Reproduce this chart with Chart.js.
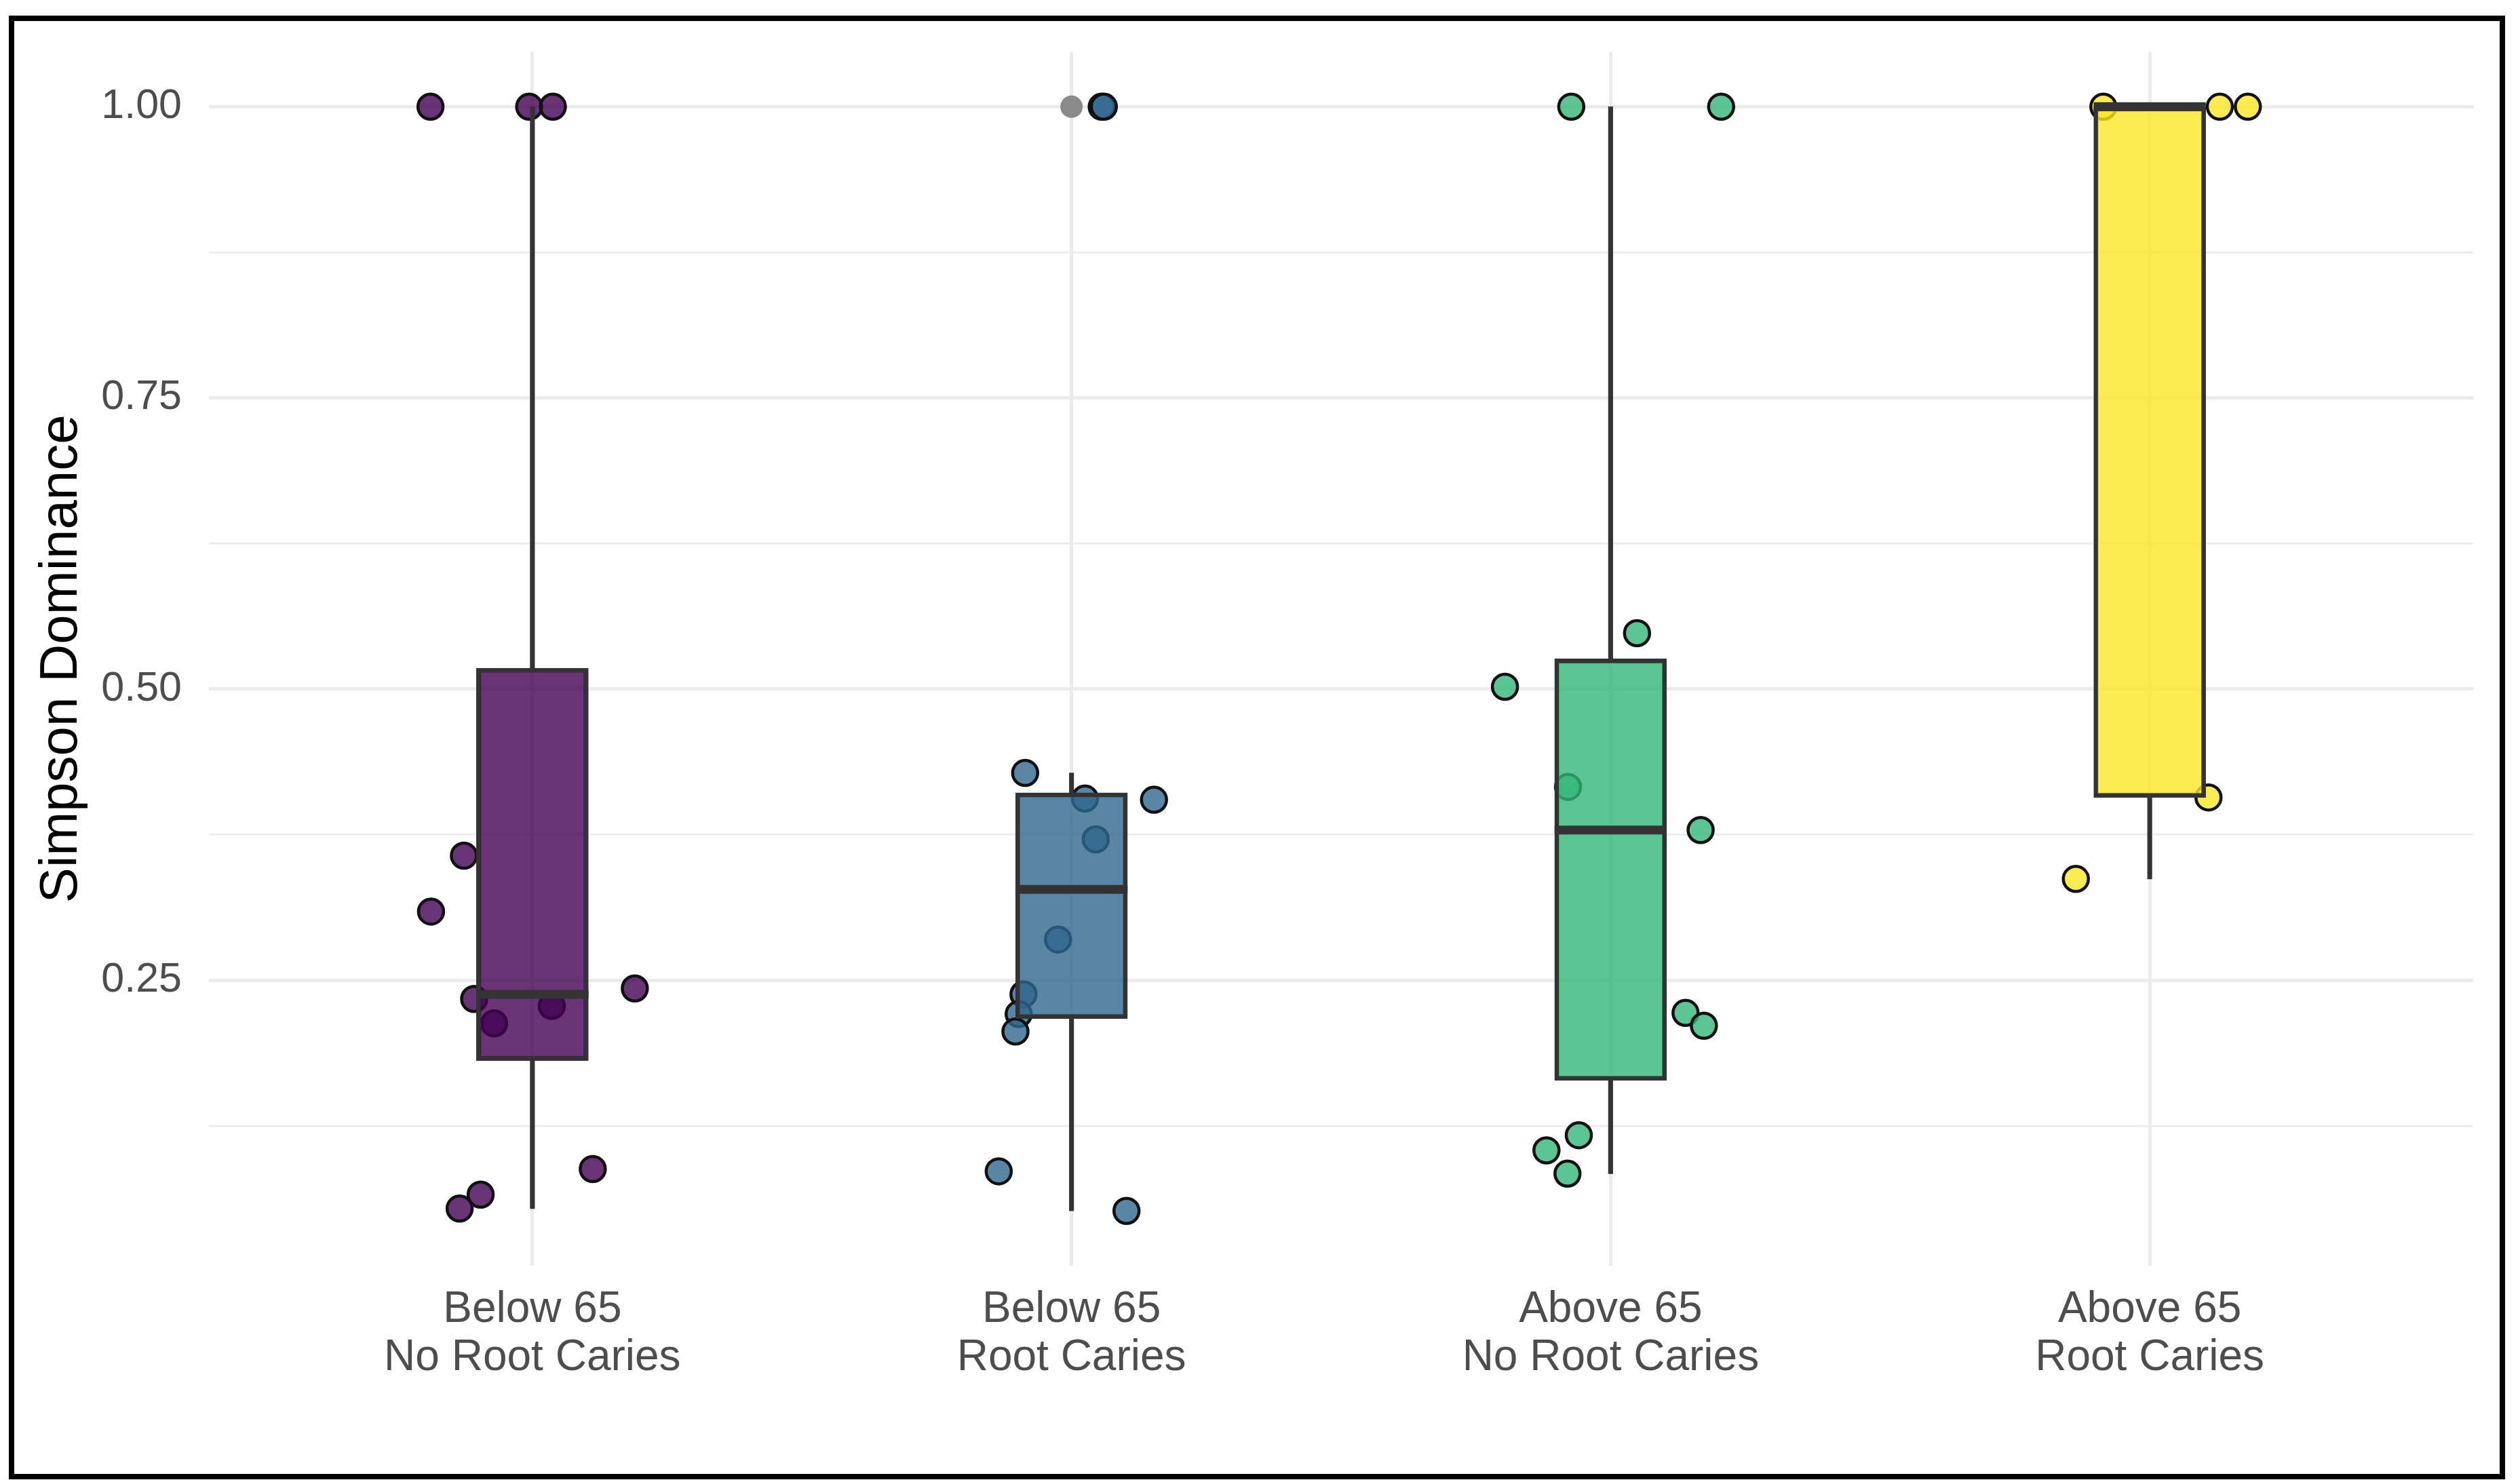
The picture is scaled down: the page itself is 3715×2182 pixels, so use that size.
<!DOCTYPE html>
<html>
<head>
<meta charset="utf-8">
<title>Simpson Dominance</title>
<script src="https://cdn.jsdelivr.net/npm/chart.js@4/dist/chart.umd.min.js"></script>
<style>
  html, body { margin: 0; padding: 0; background: #fff; }
  #wrap { position: relative; width: 3715px; height: 2182px; }
  #frame {
    position: absolute; left: 13px; top: 23px; width: 3680px; height: 2158px;
    box-sizing: border-box; border: 8px solid #000; pointer-events: none;
  }
</style>
</head>
<body>
<div id="wrap">
  <canvas id="chart" width="3715" height="2182"></canvas>
  <div id="frame"></div>
</div>
<script>
/* ── Data ── */
const CATEGORIES = [
  ['Below 65', 'No Root Caries'],
  ['Below 65', 'Root Caries'],
  ['Above 65', 'No Root Caries'],
  ['Above 65', 'Root Caries'],
];

// box statistics
const BOX_Q1     = [0.181, 0.217, 0.164, 0.407];
const BOX_MEDIAN = [0.238, 0.328, 0.379, 1.000];
const BOX_Q3     = [0.518, 0.411, 0.526, 1.000];
const WHISKER_LO = [0.054, 0.052, 0.084, 0.337];
const WHISKER_HI = [1.000, 0.428, 1.000, 1.000];

// boxplot outliers (group position, value)
const OUTLIER_GROUP = [2];
const OUTLIER_VALUE = [1.000];

// jittered observations per group
const G1_VALUES = [1.00, 1.00, 1.00, 0.357, 0.309, 0.234, 0.213, 0.228, 0.243, 0.088, 0.066, 0.054];
const G1_JITTER = [-0.189, -0.006, 0.038, -0.127, -0.188, -0.108, -0.071, 0.036, 0.190, 0.112, -0.096, -0.135];

const G2_VALUES = [1.00, 1.00, 0.428, 0.406, 0.371, 0.405, 0.285, 0.238, 0.221, 0.206, 0.086, 0.052];
const G2_JITTER = [0.056, 0.060, -0.086, 0.025, 0.045, 0.153, -0.025, -0.089, -0.098, -0.104, -0.135, 0.102];

const G3_VALUES = [1.00, 1.00, 0.548, 0.502, 0.416, 0.379, 0.222, 0.211, 0.117, 0.104, 0.084];
const G3_JITTER = [-0.073, 0.205, 0.049, -0.196, -0.079, 0.167, 0.139, 0.173, -0.059, -0.119, -0.080];

const G4_VALUES = [1.00, 1.00, 1.00, 0.407, 0.337];
const G4_JITTER = [-0.086, 0.130, 0.182, 0.109, -0.137];

const Y_TICKS = [0.125, 0.25, 0.375, 0.5, 0.625, 0.75, 0.875, 1.0];
const Y_MIN = 0.005;
const Y_MAX = 1.047;

/* ── Style ── */
const PALETTE = ['68,1,84', '49,104,142', '53,183,121', '253,231,37'];
const FONT = "'Liberation Sans', Arial, Helvetica, sans-serif";
const TICK_COLOR = '#4D4D4D';
const GRID = '#EBEBEB';
const LINE = '#333333';
const MEDIAN_HALF = 0.104;

const isMajor = v => Math.abs(v * 4 - Math.round(v * 4)) < 1e-6;

function pointSet(values, jitter, g) {
  return {
    type: 'scatter',
    order: 10,
    data: values.map((v, i) => ({ x: g + 1 + jitter[i], y: v })),
    backgroundColor: `rgba(${PALETTE[g]},0.8)`,
    borderColor: '#111111',
    borderWidth: 4.5,
    pointRadius: 18.5,
  };
}

function medianData() {
  const out = [];
  BOX_MEDIAN.forEach((m, i) => {
    out.push({ x: i + 1 - MEDIAN_HALF, y: m });
    out.push({ x: i + 1 + MEDIAN_HALF, y: m });
    out.push({ x: i + 1.5, y: null });
  });
  return out;
}

const datasets = [
  pointSet(G1_VALUES, G1_JITTER, 0),
  pointSet(G2_VALUES, G2_JITTER, 1),
  pointSet(G3_VALUES, G3_JITTER, 2),
  pointSet(G4_VALUES, G4_JITTER, 3),
  {
    type: 'bar', order: 6, grouped: false,
    data: BOX_Q3.map((q, i) => ({ x: i + 1, y: [q, WHISKER_HI[i]] })),
    backgroundColor: LINE, borderWidth: 0, barThickness: 6.5,
  },
  {
    type: 'bar', order: 6, grouped: false,
    data: BOX_Q1.map((q, i) => ({ x: i + 1, y: [WHISKER_LO[i], q] })),
    backgroundColor: LINE, borderWidth: 0, barThickness: 6.5,
  },
  {
    type: 'bar', order: 4, grouped: false,
    data: BOX_Q1.map((q, i) => ({ x: i + 1, y: [q, BOX_Q3[i]] })),
    backgroundColor: PALETTE.map(c => `rgba(${c},0.8)`),
    borderColor: LINE, borderWidth: 6.5, borderSkipped: false,
    barThickness: 165,
  },
  {
    type: 'line', order: 2,
    data: medianData(),
    borderColor: LINE, borderWidth: 13, borderCapStyle: 'butt',
    pointRadius: 0, spanGaps: false, fill: false,
  },
  {
    type: 'scatter', order: 1,
    data: OUTLIER_GROUP.map((g, i) => ({ x: g, y: OUTLIER_VALUE[i] })),
    backgroundColor: '#8A8A8A', borderWidth: 0, pointRadius: 16.5,
  },
];

/* ── Chart ── */
new Chart(document.getElementById('chart'), {
  type: 'bar',
  data: { datasets },
  options: {
    responsive: false,
    devicePixelRatio: 1,
    animation: false,
    events: [],
    layout: { padding: { left: 0, top: 70, right: 69, bottom: 0 } },
    plugins: { legend: { display: false }, tooltip: { enabled: false } },
    scales: {
      x: {
        type: 'linear',
        offset: false,
        min: 0.4, max: 4.6,
        afterBuildTicks: s => { s.ticks = CATEGORIES.map((_, i) => ({ value: i + 1 })); },
        afterFit: s => { s.height = 316; },
        grid: { color: GRID, lineWidth: 5, drawTicks: false, offset: false },
        border: { display: false },
        ticks: {
          padding: 30,
          color: TICK_COLOR,
          font: { family: FONT, size: 64, lineHeight: 1.11 },
          callback: (v, i) => CATEGORIES[i],
        },
      },
      y: {
        type: 'linear',
        min: Y_MIN, max: Y_MAX,
        afterBuildTicks: s => { s.ticks = Y_TICKS.map(v => ({ value: v })); },
        afterFit: s => { s.width = 308; },
        grid: {
          color: GRID,
          lineWidth: ctx => (ctx.tick && isMajor(ctx.tick.value) ? 5 : 2.5),
          drawTicks: false,
        },
        border: { display: false },
        ticks: {
          padding: 40,
          color: TICK_COLOR,
          font: { family: FONT, size: 61 },
          callback: v => (isMajor(v) ? v.toFixed(2) : ''),
        },
        title: {
          display: true,
          text: 'Simpson Dominance',
          color: '#000000',
          font: { family: FONT, size: 78, lineHeight: 1.2 },
          padding: { top: 45, bottom: 0 },
        },
      },
    },
  },
});
</script>
</body>
</html>
